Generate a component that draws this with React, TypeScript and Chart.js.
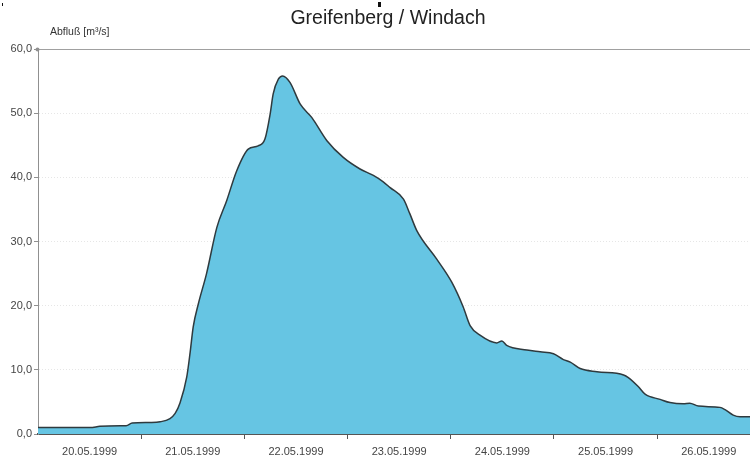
import React, { useEffect, useRef } from "react";
import { Chart, registerables } from "chart.js";

Chart.register(...registerables);

const TITLE = "Greifenberg / Windach";
const Y_LABEL = "Abfluß [m³/s]";
const DATE_LABELS = ["20.05.1999", "21.05.1999", "22.05.1999", "23.05.1999", "24.05.1999", "25.05.1999", "26.05.1999"];

// hours since 20.05.1999 00:00
const HOURS = [
  0, 12.1, 14.4, 19.1, 20.5, 21.9, 26.0, 28.4, 30.7, 31.9, 33.0, 34.6, 35.4, 36.1, 37.3, 39.2,
  41.6, 43.9, 46.2, 48.9, 51.2, 52.8, 54.0, 54.7, 55.9, 56.9, 58.6, 61.0, 63.7, 67.2, 71.0, 74.9,
  78.0, 80.3, 81.9, 85.0, 86.5, 88.1, 92.7, 96.2, 98.9, 100.5, 102.8, 106.7, 107.9, 109.0, 113.7,
  116.8, 119.9, 122.2, 123.8, 126.1, 130.0, 136.2, 137.3, 139.6, 141.2, 144.7, 147.0, 150.1, 151.6,
  153.6, 158.6, 159.8, 161.7, 163.3, 165.6,
];
// discharge in m³/s
const FLOW = [
  1.0, 1.0, 1.2, 1.3, 1.3, 1.7, 1.8, 1.9, 2.4, 3.2, 4.8, 8.9, 12.8, 16.7, 20.3, 25.0,
  32.2, 36.4, 41.0, 44.4, 44.9, 46.0, 49.9, 53.0, 55.3, 55.8, 54.8, 51.4, 49.3, 45.7, 43.1, 41.3,
  40.3, 39.3, 38.4, 36.6, 34.3, 31.7, 27.3, 23.7, 19.8, 16.9, 15.4, 14.2, 14.5, 13.8, 13.1,
  12.8, 12.5, 11.6, 11.2, 10.2, 9.7, 9.2, 8.8, 7.4, 6.2, 5.4, 4.9, 4.7, 4.8,
  4.35, 4.15, 3.8, 2.95, 2.7, 2.7,
];
const Y_TICKS = [0, 10, 20, 30, 40, 50, 60];

const FONT = "'Liberation Sans', Arial, sans-serif";

export default function App() {
  const ref = useRef<HTMLCanvasElement | null>(null);

  useEffect(() => {
    const canvas = ref.current;
    if (!canvas) return;

    const decor = {
      id: "decor",
      beforeDraw(chart: any) {
        const c = chart.ctx;
        c.save();
        c.fillStyle = "#ffffff";
        c.fillRect(0, 0, chart.width, chart.height);
        c.restore();
      },
      afterDraw(chart: any) {
        const c = chart.ctx;
        const a = chart.chartArea;
        const ys = chart.scales.y;
        c.save();
        // top line at 60
        const yTop = Math.round(ys.getPixelForValue(60)) + 0.5;
        c.strokeStyle = "#a0a0a0";
        c.lineWidth = 1;
        c.beginPath();
        c.moveTo(a.left, yTop);
        c.lineTo(a.right, yTop);
        c.stroke();
        // small dot at top of axis
        c.fillStyle = "#909090";
        c.beginPath();
        c.arc(a.left - 0.5, yTop, 2, 0, Math.PI * 2);
        c.fill();
        // title
        c.fillStyle = "#222222";
        c.font = `19.5px ${FONT}`;
        c.textAlign = "center";
        c.textBaseline = "middle";
        c.fillText(TITLE, 388, 18.5);
        // y-axis label
        c.fillStyle = "#333333";
        c.font = `10.5px ${FONT}`;
        c.textAlign = "left";
        c.fillText(Y_LABEL, 50, 32.5);
        // small marks at top
        c.fillStyle = "#111111";
        c.fillRect(378, 2, 3, 5);
        c.fillRect(2, 3, 1, 3);
        c.restore();
      },
    };

    const chart = new Chart(canvas, {
      type: "line",
      data: {
        datasets: [
          {
            data: HOURS.map((h, i) => ({ x: h, y: FLOW[i] })),
            borderColor: "#2f3a3e",
            borderWidth: 1.5,
            backgroundColor: "#66c5e3",
            fill: "origin",
            pointRadius: 0,
            cubicInterpolationMode: "monotone",
          },
        ],
      },
      plugins: [decor],
      options: {
        responsive: false,
        animation: false,
        layout: { padding: { top: 49, left: 0, right: 0, bottom: 0 } },
        plugins: {
          legend: { display: false },
          title: { display: false },
          tooltip: { enabled: false },
        },
        scales: {
          x: {
            type: "linear",
            min: 0,
            max: 165.6,
            afterBuildTicks: (scale: any) => {
              const t: any[] = [];
              for (let h = 12; h <= 156; h += 12) t.push({ value: h });
              scale.ticks = t;
            },
            afterFit: (scale: any) => {
              scale.height = 27;
            },
            ticks: {
              autoSkip: false,
              maxRotation: 0,
              padding: 6,
              color: "#444444",
              font: { family: FONT, size: 11 },
              callback: (v: any) => {
                const n = Number(v);
                if (n % 24 === 12) return DATE_LABELS[(n - 12) / 24];
                return "";
              },
            },
            grid: {
              drawOnChartArea: false,
              drawTicks: true,
              tickLength: 5,
              tickColor: (ctx: any) => (ctx.tick && ctx.tick.value % 24 === 0 ? "#555555" : "rgba(0,0,0,0)"),
            },
            border: { display: true, color: "#555555", width: 2 },
          },
          y: {
            min: 0,
            max: 60,
            afterBuildTicks: (scale: any) => {
              scale.ticks = Y_TICKS.map((v) => ({ value: v }));
            },
            afterFit: (scale: any) => {
              scale.width = 38;
            },
            ticks: {
              padding: 2,
              color: "#444444",
              font: { family: FONT, size: 11 },
              callback: (v: any) => Number(v).toFixed(1).replace(".", ","),
            },
            grid: {
              color: (ctx: any) => (ctx.tick && (ctx.tick.value === 0 || ctx.tick.value === 60) ? "rgba(0,0,0,0)" : "#e6e6e6"),
              tickLength: 4,
              tickColor: "#909090",
              lineWidth: 1,
            },
            border: { display: true, color: "#909090", width: 1, dash: [1, 2] },
          },
        },
      },
    });

    return () => chart.destroy();
  }, []);

  return (
    <div style={{ position: "fixed", left: 0, top: 0, width: 750, height: 461, overflow: "hidden", background: "#fff" }}>
      <canvas ref={ref} width={750} height={461} style={{ display: "block" }} />
    </div>
  );
}
